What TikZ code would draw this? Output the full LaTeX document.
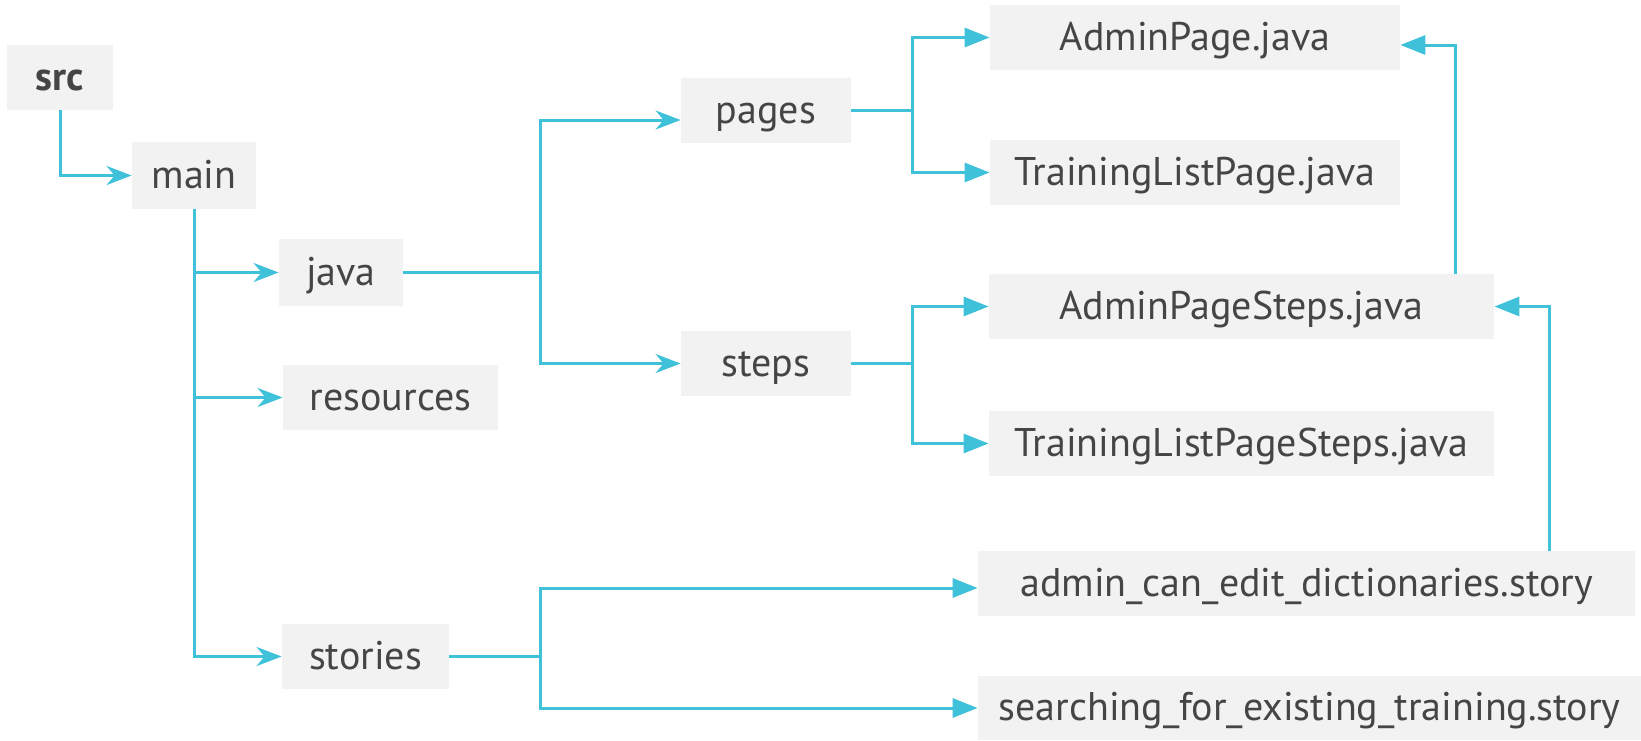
\documentclass[tikz,border=0pt]{standalone}
\usepackage{fontspec}
\setmainfont{PT Sans}
\usetikzlibrary{arrows.meta}
\definecolor{boxgray}{HTML}{F2F2F2}
\definecolor{txtgray}{HTML}{454545}
\definecolor{linkcyan}{HTML}{3EC1D9}
\begin{document}
\begin{tikzpicture}[x=0.5pt,y=-0.5pt,
                        box/.style={fill=boxgray,text=txtgray,inner sep=0pt,minimum height=32.5pt,text height=15pt,text depth=2.5pt,font=\fontsize{20}{23}\selectfont},
                        barb/.style={linkcyan,line width=1.5pt,-{Stealth[length=12.5pt,width=9.5pt,inset=4pt]}},
                        tri/.style={linkcyan,line width=1.5pt,-{Triangle[length=12.5pt,width=9.5pt]}}]
                        \useasboundingbox (0,0) rectangle (1641,740);
                        \coordinate (jfork) at (540,0);
                        \coordinate (pfork) at (912,0);
                        \node [box,minimum width=53pt,minimum height=32.5pt,font=\fontsize{20}{23}\selectfont\bfseries] (src) at (60,77.5) {src};
                        \node [box,minimum width=62pt,minimum height=33.5pt] (main) at (194,175.5) {main};
                        \node [box,minimum width=62pt,minimum height=33.5pt] (java) at (341,272.5) {java};
                        \node [box,minimum width=107.5pt] (res) at (390.5,397.5) {resources};
                        \node [box,minimum width=83.5pt] (stories) at (365.5,656.5) {stories};
                        \node [box,minimum width=85pt] (pages) at (766,110.5) {pages};
                        \node [box,minimum width=85pt] (steps) at (766,363.5) {steps};
                        \node [box,minimum width=205pt] (ap) at (1195,37.5) {AdminPage.java};
                        \node [box,minimum width=205pt] (tlp) at (1195,172.5) {TrainingListPage.java};
                        \node [box,minimum width=252.5pt] (aps) at (1241.5,306.5) {AdminPageSteps.java};
                        \node [box,minimum width=252.5pt] (tlps) at (1241.5,443.5) {TrainingListPageSteps.java};
                        \node [box,minimum width=328.5pt] (ace) at (1306.5,583.5) {admin\_can\_edit\_dictionaries.story};
                        \node [box,minimum width=331.5pt,minimum height=32pt] (sfet) at (1309.5,708) {searching\_for\_existing\_training.story};
                        \draw [barb] (src.south) |- (main.west);
                        \draw [barb] (main.south) |- (java.west);
                        \draw [barb] (main.south) |- (res.west);
                        \draw [barb] (main.south) |- (stories.west);
                        \draw [barb] (java.east) -- (java.east -| jfork) |- ([yshift=-4.75pt]pages.west);
                        \draw [barb] (java.east) -- (java.east -| jfork) |- (steps.west);
                        \draw [tri] (pages.east) -- (pages.east -| pfork) |- (ap.west);
                        \draw [tri] (pages.east) -- (pages.east -| pfork) |- (tlp.west);
                        \draw [tri] (steps.east) -- (steps.east -| pfork) |- (aps.west);
                        \draw [tri] (steps.east) -- (steps.east -| pfork) |- (tlps.west);
                        \draw [tri] (stories.east) -- (stories.east -| jfork) |- ([yshift=-2.25pt]ace.west);
                        \draw [tri] (stories.east) -- (stories.east -| jfork) |- (sfet.west);
                        \draw [tri] ([xshift=106.75pt]aps.north) |- ([yshift=-3.75pt]ap.east);
                        \draw [tri] ([xshift=121.25pt]ace.north) |- (aps.east);
                    \end{tikzpicture}
\end{document}
